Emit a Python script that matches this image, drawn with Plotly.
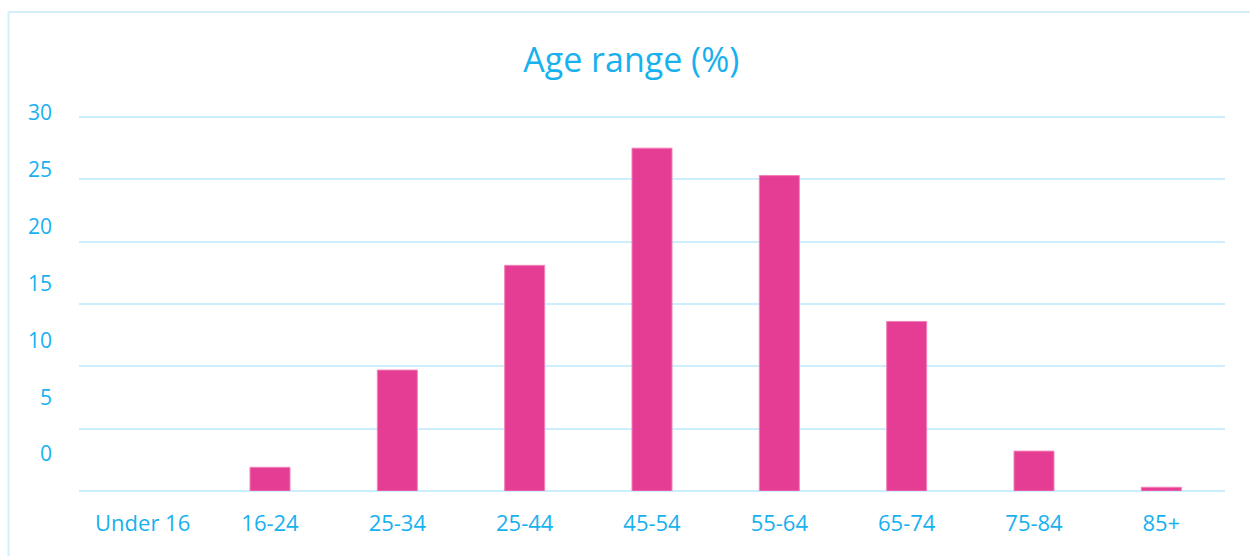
import plotly.graph_objects as go

# Age bands and share of respondents (%)
age_bands = ["Under 16", "16-24", "25-34", "25-44", "45-54", "55-64", "65-74", "75-84", "85+"]
share_pct = [0, 1.9, 9.7, 18.1, 27.5, 25.3, 13.6, 3.2, 0.3]
y_ticks = [0, 5, 10, 15, 20, 25, 30]

TEXT = "#17b1ef"
GRID = "#cdeefc"
BAR = "#e63d94"
FONT = "Open Sans"

W, H = 1250, 556
ML, MR, MT, MB = 79, 25, 100, 65
plot_h = H - MT - MB
plot_w = W - ML - MR

fig = go.Figure()
fig.add_trace(go.Bar(
    x=age_bands, y=share_pct,
    marker=dict(color=BAR,
                line=dict(color="#f27fb8", width=[0 if v == 0 else 1 for v in share_pct])),
    width=0.314,
    hoverinfo="x+y",
))
# invisible helper trace so the label axis is drawn
fig.add_trace(go.Scatter(x=[age_bands[0]], y=[0], yaxis="y2", mode="markers",
                         marker=dict(opacity=0), hoverinfo="skip", showlegend=False))

# grid axis: 30 sits 17px below the plot top
grid_top = 30 * plot_h / (plot_h - 17)
# label axis: labels step ~57px, 0 label sits 37px above the baseline
lab_px = 11.37
lab_lo = -37 / lab_px
lab_hi = lab_lo + plot_h / lab_px

fig.update_layout(
    width=W, height=H,
    margin=dict(l=ML, r=MR, t=MT, b=MB),
    paper_bgcolor="white", plot_bgcolor="white",
    showlegend=False,
    font=dict(family=FONT, color=TEXT),
    title=dict(text="Age range (%)", x=0.505, xanchor="center", y=1 - 60 / H, yanchor="middle",
               font=dict(size=34, color=TEXT, family=FONT)),
    xaxis=dict(showgrid=False, showline=False, zeroline=False,
               tickfont=dict(size=22, color=TEXT), ticks="", ticklabelstandoff=17,
               fixedrange=True),
    yaxis=dict(range=[0, grid_top], tickvals=y_ticks, showticklabels=False,
               showgrid=True, gridcolor=GRID, gridwidth=2,
               zeroline=True, zerolinecolor=GRID, zerolinewidth=2,
               showline=False, fixedrange=True),
    yaxis2=dict(range=[lab_lo, lab_hi], tickvals=y_ticks, overlaying="y", side="left",
                showgrid=False, zeroline=False, showline=False,
                tickfont=dict(size=21, color=TEXT), ticklabelstandoff=26,
                fixedrange=True),
    shapes=[
        dict(type="line", xref="paper", yref="paper",
             x0=(8.5 - ML) / plot_w, x1=(8.5 - ML) / plot_w,
             y0=1 + (MT - 12) / plot_h, y1=-(MB + 5) / plot_h,
             line=dict(color="#d3effc", width=2)),
        dict(type="line", xref="paper", yref="paper",
             x0=(8.5 - ML) / plot_w, x1=1 + (MR + 5) / plot_w,
             y0=1 + (MT - 12) / plot_h, y1=1 + (MT - 12) / plot_h,
             line=dict(color="#d3effc", width=2)),
    ],
)

fig.write_html("out.html", config={"displayModeBar": False})
